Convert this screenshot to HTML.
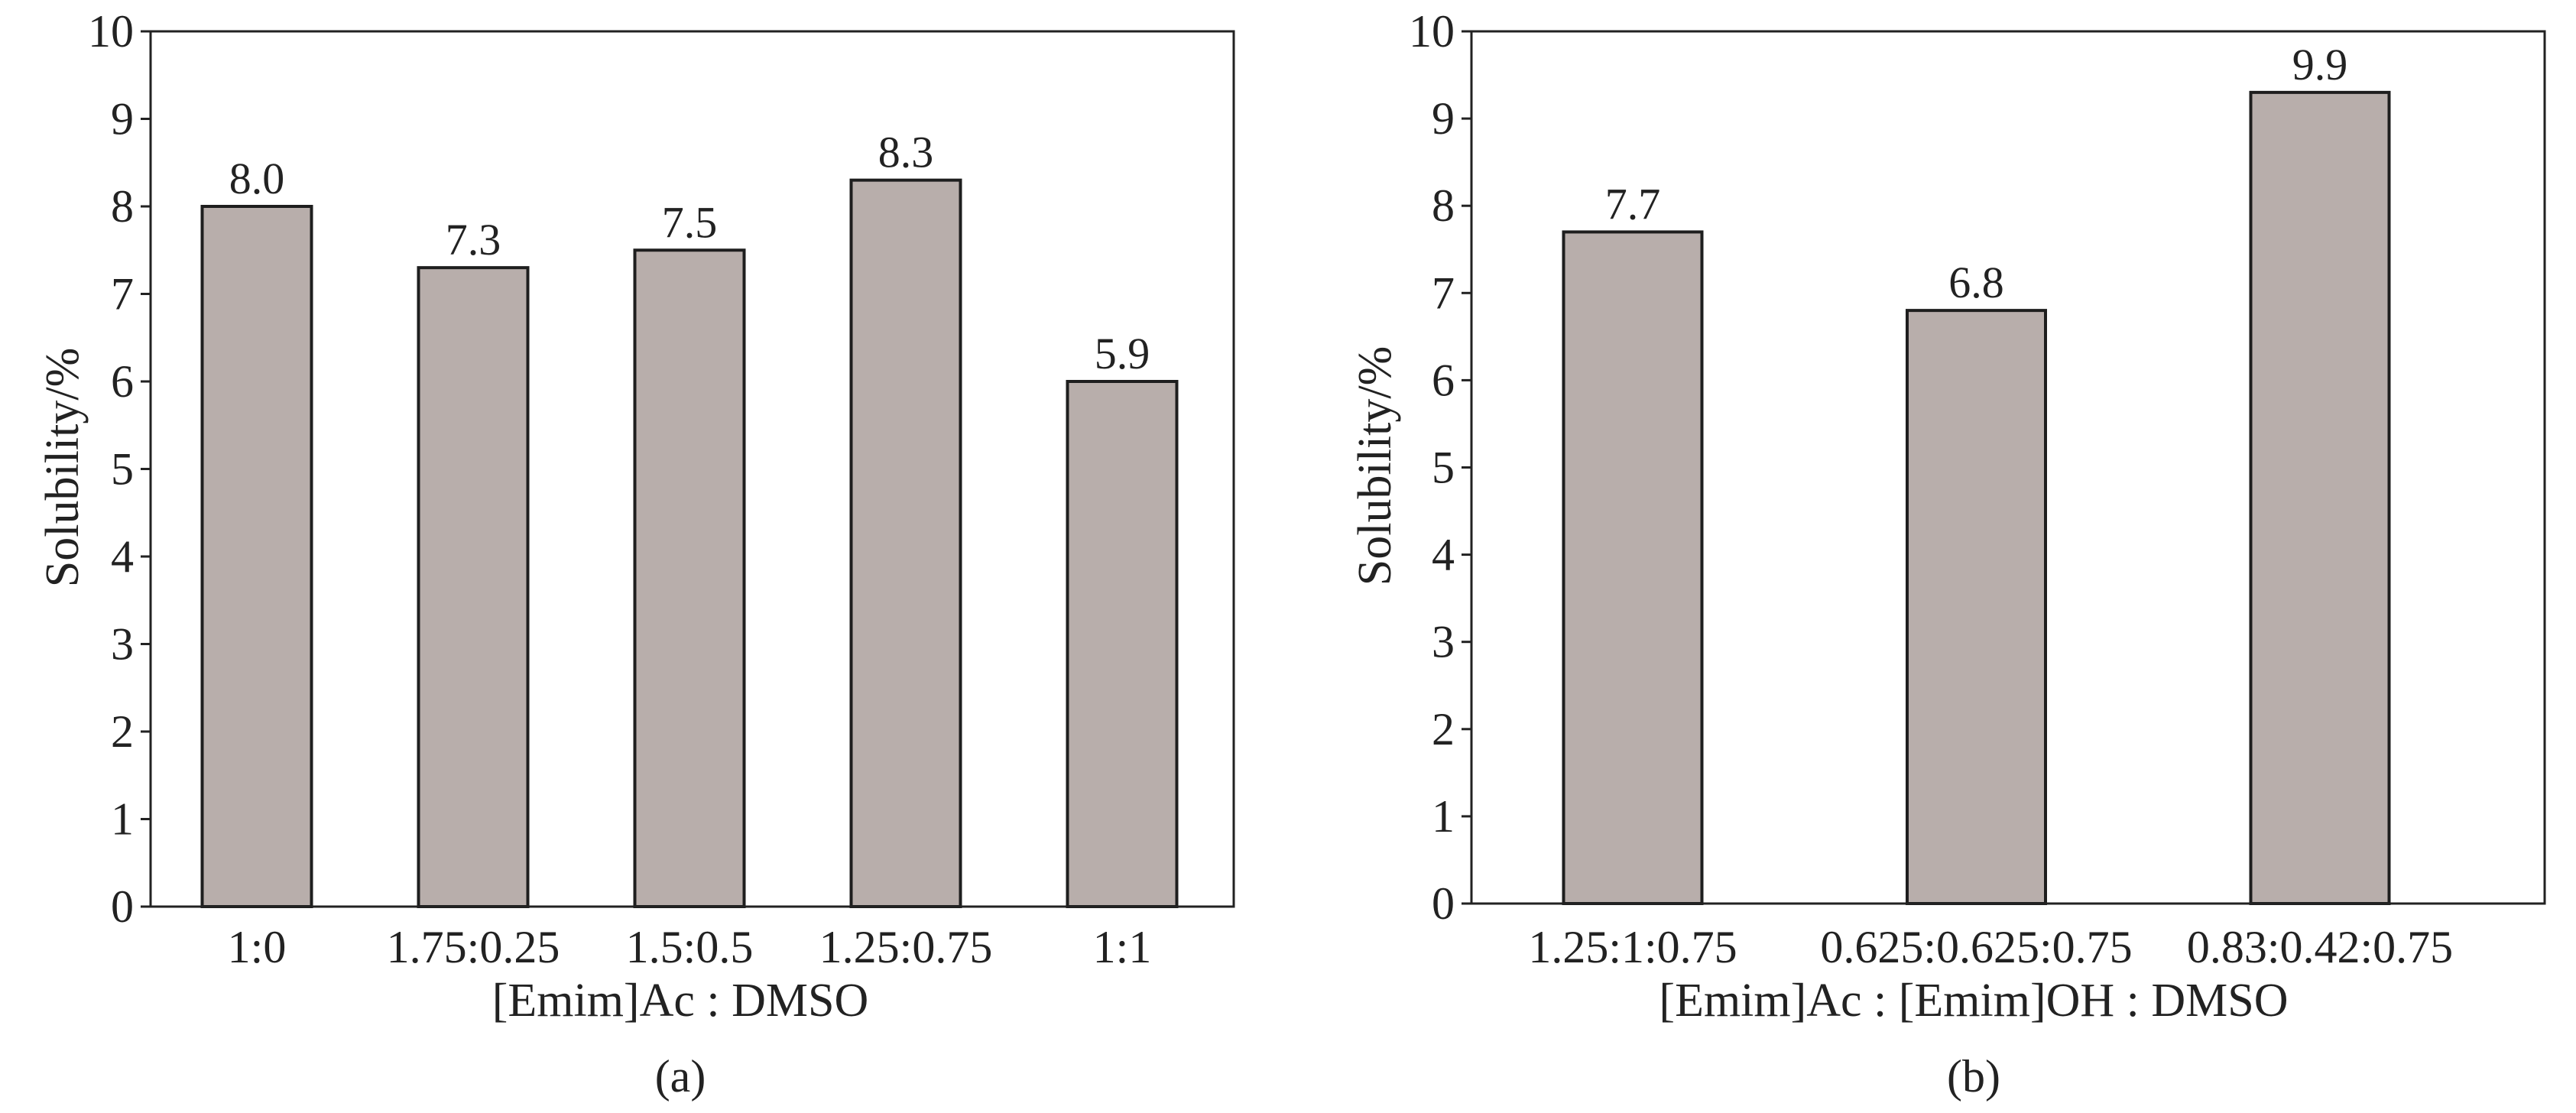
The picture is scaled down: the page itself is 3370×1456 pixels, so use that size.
<!DOCTYPE html>
<html><head><meta charset="utf-8"><style>
html,body{margin:0;padding:0;background:#fff;}
svg{display:block;font-family:"Liberation Serif",serif;}
</style></head><body>
<svg id="c" width="3370" height="1456" viewBox="0 0 3370 1456"></svg>
<script>
const catsA = ["1:0","1.75:0.25","1.5:0.5","1.25:0.75","1:1"];
const valsA = [8.0,7.3,7.5,8.3,6.0];
const lblsA = ["8.0","7.3","7.5","8.3","5.9"];
const catsB = ["1.25:1:0.75","0.625:0.625:0.75","0.83:0.42:0.75"];
const valsB = [7.7,6.8,9.3];
const lblsB = ["7.7","6.8","9.9"];
const yTicks = [0,1,2,3,4,5,6,7,8,9,10];

const NS="http://www.w3.org/2000/svg";
const svg=document.getElementById('c');
function mk(tag,attrs,parent,text){const e=document.createElementNS(NS,tag);for(const k in attrs)e.setAttribute(k,attrs[k]);if(text!==undefined)e.textContent=text;(parent||svg).appendChild(e);return e;}

function chart(o){
  const g=mk('g',{});
  
  
  const y=v=>o.bottom-(v/10)*(o.bottom-o.top);
  const x=i=>o.first+i*o.step;
  yTicks.forEach(t=>{
    const l=mk('line',{x1:o.left-13,x2:o.left,y1:y(t),y2:y(t),stroke:'#222','stroke-width':3},g);
    
    
    const tx=mk('text',{x:o.left-22,y:y(t)+20,'text-anchor':'end','font-size':60,fill:'#222'},g,String(t));
    
    
  });
  o.vals.forEach((v,i)=>{
    const r=mk('rect',{x:x(i)-o.bw/2,y:y(v),width:o.bw,height:o.bottom-y(v),fill:'#b8aeab',stroke:'#1e1e1e','stroke-width':4},g);
    
    
    const t=mk('text',{x:x(i),y:y(v)-17,'text-anchor':'middle','font-size':58,fill:'#222'},g,o.lbls[i]);
    
    
    const c=mk('text',{x:x(i),y:1259,'text-anchor':'middle','font-size':60,fill:'#222'},g,o.cats[i]);
    
    
  });
  const fr=mk('rect',{x:o.left,y:o.top,width:o.right-o.left,height:o.bottom-o.top,fill:'none',stroke:'#222','stroke-width':3},g);
  
  
  const yt=mk('text',{x:0,y:0,transform:`translate(${o.ytx},${(o.top+o.bottom)/2-2}) rotate(-90)`,'text-anchor':'middle','font-size':62,fill:'#222'},g,'Solubility/%');
  
  
  const xt=mk('text',{x:o.xtx,y:1329,'text-anchor':'middle','font-size':62,fill:'#222'},g,o.xtitle);
  
  
  const pl=mk('text',{x:o.xtx,y:1428,'text-anchor':'middle','font-size':60,fill:'#222'},g,o.panel);
  
  
}
chart({name:'chart-a',left:197,right:1614,top:41,bottom:1186,first:336,step:283,bw:143,vals:valsA,lbls:lblsA,cats:catsA,ytx:102,xtx:890,xtitle:'[Emim]Ac : DMSO',panel:'(a)'});
chart({name:'chart-b',left:1925,right:3329,top:41,bottom:1182,first:2136,step:449.5,bw:181,vals:valsB,lbls:lblsB,cats:catsB,ytx:1819,xtx:2582,xtitle:'[Emim]Ac : [Emim]OH : DMSO',panel:'(b)'});
</script>
</body></html>
